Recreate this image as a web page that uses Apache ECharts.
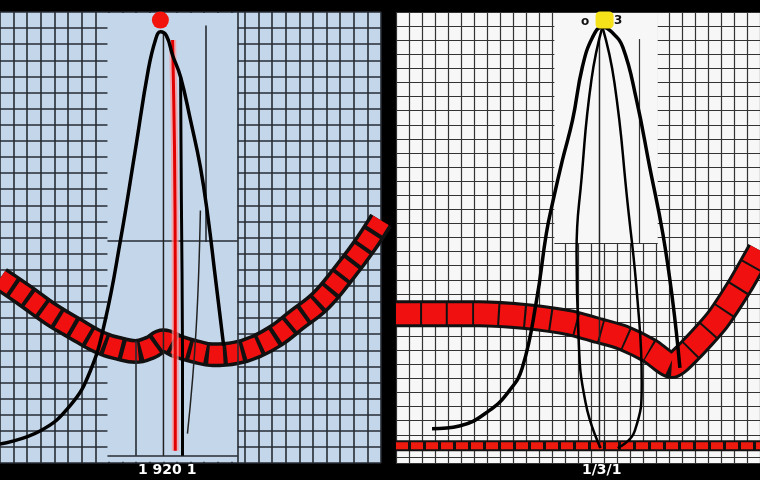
<!DOCTYPE html>
<html>
<head>
<meta charset="utf-8">
<script src="https://cdn.jsdelivr.net/npm/echarts@6/dist/echarts.min.js"></script>
<style>html,body{margin:0;padding:0;background:#000;}#c{width:760px;height:480px;}</style>
</head>
<body>
<div id="c"></div>
<script>
// ---- data (axis units 0..100 in each panel) ----
const leftPeak = [[0,4.2],[10.5,7.1],[18.4,12.7],[23.7,20.4],[27.6,31.6],[31.6,49.3],[35.5,69.3],[38.9,87.1],[40.8,93.8],[42.1,95.6],[43.7,94.7],[45.3,90.4],[47.4,85.6],[50,76],[52.6,65.6],[54.7,53.8],[56.3,42.7],[57.9,31.6],[58.7,26]];
const leftStem = [[47.4,85.6],[47.6,58.7],[47.9,24.9],[47.9,1.6]];
const leftThinStem = [[42.9,95.3],[42.9,50],[42.9,1.6]];
const leftThinBranch = [[52.6,56],[51.5,30],[49.2,6.5]];
const leftRedStem = [[45.3,93.8],[45.8,70],[46,40],[46,2.7]];
const leftBand = [[0,40.9],[6.6,37.1],[13.2,33.1],[19.7,29.8],[26.3,26.7],[31.6,25.3],[35.5,24.7],[39.5,25.6],[42.9,27.1],[46.8,25.8],[51.3,24.7],[55.8,24],[61.8,24.4],[67.1,25.8],[72.4,28.2],[77.6,31.6],[84.2,36],[90.8,42.7],[96.1,48.7],[100,53.8]];
const leftDot = [[42.1,98.2]];

const rightPeak = [[9.9,7.6],[17.4,8.2],[25.6,11.6],[31.1,16],[34.7,21.1],[38.6,36],[41.3,50.9],[43,57.6],[45.7,67.1],[48.5,76],[51.2,87.8],[54,94.4],[56.7,96.7],[59.2,95.6],[62.3,92.2],[66.1,80.4],[69.7,65.6],[73.3,50.9],[76,36],[78,21.1]];
const rightInnerL = [[56.7,96.7],[53.7,85],[51,63.3],[49.6,46.7],[50.1,29],[52.1,13.3],[56.2,3.3]];
const rightInnerR = [[56.7,96.7],[60,84.4],[63.6,57.8],[66.4,35.6],[67.5,17.8],[65.6,7.1],[60.9,3.3]];
const rightStem = [[55.9,94],[55.9,50],[55.9,3.3]];
const rightBand = [[0,33.1],[9.1,33.1],[22.9,33.1],[36.6,32.4],[47.7,31.1],[55.9,29.3],[62.3,27.8],[69.7,24.9],[75.8,21.6],[80.7,24.9],[88.2,31.6],[94.5,39.3],[100,47.1]];
const rightFloor = [[0,3.8],[100,3.8]];
const rightDot = [[57.3,98.2]];

const bottomLabels = ['1 920 1', '1/3/1'];
const peakMarks = ['o', '3'];

const leftBg = '#c4d6ea';
const rightBg = '#f7f7f7';

function axisX(gi, color, w, minor){
  return {type:'value', gridIndex:gi, min:0, max:100, interval:25,
    axisLine:{show:false}, axisTick:{show:false}, axisLabel:{show:false},
    minorTick:{show:false, splitNumber:minor},
    splitLine:{show:true, lineStyle:{color:color, width:w}},
    minorSplitLine:{show:true, lineStyle:{color:color, width:w}}};
}
function axisY(gi, color, w, minor){
  return {type:'value', gridIndex:gi, min:0, max:100, interval:25,
    axisLine:{show:false}, axisTick:{show:false}, axisLabel:{show:false},
    minorTick:{show:false, splitNumber:minor},
    splitLine:{show:true, lineStyle:{color:color, width:w}},
    minorSplitLine:{show:true, lineStyle:{color:color, width:w}}};
}
function line(idx, data, color, width, opts){
  return Object.assign({type:'line', xAxisIndex:idx, yAxisIndex:idx, data:data,
    showSymbol:false, symbol:'none', silent:true, animation:false,
    lineStyle:{color:color, width:width}}, opts||{});
}

const chart = echarts.init(document.getElementById('c'));
chart.setOption({
  backgroundColor:'#000',
  animation:false,
  grid:[
    {left:0, top:12, width:381, height:451, show:true, backgroundColor:leftBg, borderWidth:0},
    {left:396, top:12, width:364, height:451, show:true, backgroundColor:rightBg, borderWidth:0}
  ],
  xAxis:[axisX(0,'#262b33',1.6,7), axisX(1,'#333',1.2,7)],
  yAxis:[axisY(0,'#262b33',1.6,7), axisY(1,'#333',1.2,8)],
  graphic:[
    {type:'text', z:100, left:138, top:463, style:{text:bottomLabels[0], fill:'#fff', font:'bold 14px "DejaVu Sans"'}},
    {type:'text', z:100, left:582, top:463, style:{text:bottomLabels[1], fill:'#fff', font:'bold 14px "DejaVu Sans"'}},
    {type:'text', z:100, left:581, top:16, style:{text:peakMarks[0], fill:'#111', font:'bold 12px "DejaVu Sans"'}},
    {type:'text', z:100, left:614, top:15, style:{text:peakMarks[1], fill:'#111', font:'bold 12px "DejaVu Sans"'}}
  ],
  series:[
    // blanking areas + sparse lines
    line(0, [], '#000', 0, {
      markArea:{silent:true, itemStyle:{color:leftBg, opacity:1}, data:[[{xAxis:28.2,yAxis:0.3},{xAxis:62.4,yAxis:99.8}]]},
      markLine:{silent:true, symbol:'none', label:{show:false}, lineStyle:{color:'#262b33', width:1.6, type:'solid'},
        data:[
          [{coord:[35.5,1.6]},{coord:[35.5,27]}],
          [{coord:[54,49]},{coord:[54,97]}],
          [{coord:[62.4,0]},{coord:[62.4,100]}],
          [{coord:[28.2,49.3]},{coord:[62.4,49.3]}],
          [{coord:[28.2,1.6]},{coord:[62.4,1.6]}]
        ]}
    }),
    line(1, [], '#000', 0, {
      markArea:{silent:true, itemStyle:{color:rightBg, opacity:1}, data:[[{xAxis:43.5,yAxis:48.7},{xAxis:71.9,yAxis:99.8}]]},
      markLine:{silent:true, symbol:'none', label:{show:false}, lineStyle:{color:'#333', width:1.2, type:'solid'},
        data:[
          [{coord:[66.7,48.7]},{coord:[66.7,94]}],
          [{coord:[43.5,48.7]},{coord:[71.9,48.7]}],
          [{coord:[0,1.2]},{coord:[100,1.2]}]
        ]}
    }),
    // left red band
    line(0, leftBand, '#111', 25, {smooth:0.4, z:3}),
    line(0, leftBand, '#f01010', 18, {smooth:0.4, z:4, lineStyle:{color:'#f01010', width:18, type:[14,4], cap:'butt'}}),
    // right red band
    line(1, rightBand, '#111', 27, {smooth:0.2, z:3}),
    line(1, rightBand, '#f01010', 21, {smooth:0.2, z:4, lineStyle:{color:'#f01010', width:21, type:[24,2], cap:'butt'}}),
    line(1, rightFloor, '#111', 11, {z:3}),
    line(1, rightFloor, '#ee1a0e', 7, {z:4, lineStyle:{color:'#ee1a0e', width:7, type:[12,3], cap:'butt'}}),
    // left curves
    line(0, leftRedStem, 'rgba(255,150,150,0.7)', 7, {smooth:0.3, z:5}),
    line(0, leftRedStem, '#e00000', 3, {smooth:0.3, z:6}),
    line(0, leftThinStem, '#222', 1.5, {z:6}),
    line(0, leftThinBranch, '#222', 1.5, {smooth:0.4, z:6}),
    line(0, leftStem, '#000', 3, {smooth:0.3, z:7}),
    line(0, leftPeak, '#000', 3.5, {smooth:0.45, z:7}),
    // right curves
    line(1, rightStem, '#222', 1.5, {z:6}),
    line(1, rightInnerL, '#000', 2.5, {smooth:0.5, z:7}),
    line(1, rightInnerR, '#000', 2.5, {smooth:0.5, z:7}),
    line(1, rightPeak, '#000', 3.5, {smooth:0.45, z:7}),
    // dots
    {type:'scatter', xAxisIndex:0, yAxisIndex:0, data:leftDot, symbol:'circle', symbolSize:17, z:9, silent:true,
      itemStyle:{color:'#f2140c', opacity:1}},
    {type:'scatter', xAxisIndex:1, yAxisIndex:1, data:rightDot, symbol:'roundRect', symbolSize:[18,17], z:9, silent:true,
      itemStyle:{color:'#f5e21a', opacity:1}}
  ]
});
</script>
</body>
</html>
